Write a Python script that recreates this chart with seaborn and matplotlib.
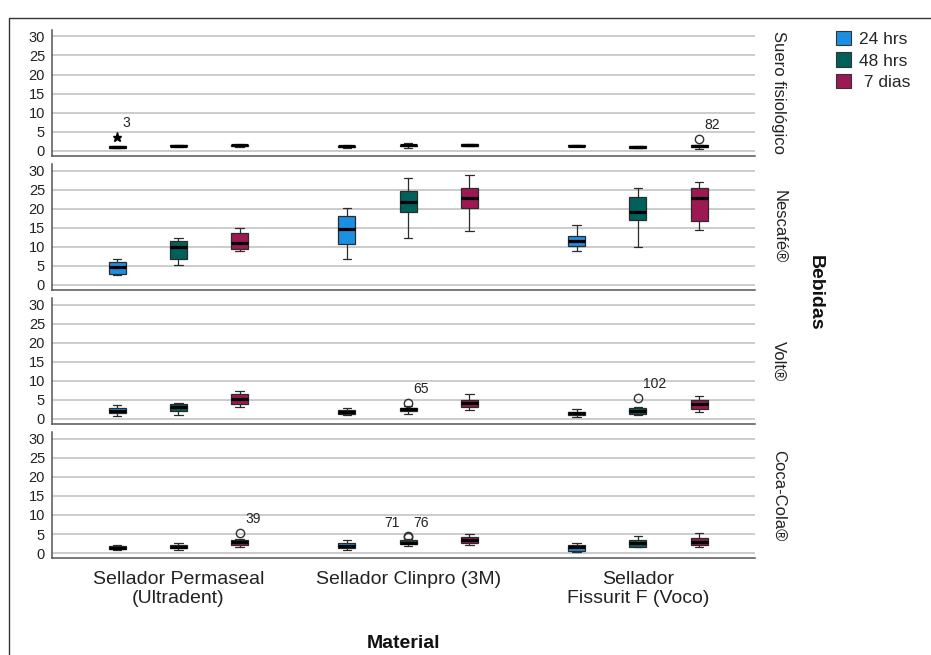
import matplotlib
matplotlib.use("Agg")
import matplotlib.pyplot as plt
from matplotlib.patches import Patch, Rectangle
import seaborn as sns
import pandas as pd

# categorias
bebidas = ["Suero fisiológico", "Nescafé®", "Volt®", "Coca-Cola®"]
materiales = ["Sellador Permaseal\n(Ultradent)", "Sellador Clinpro (3M)", "Sellador\nFissurit F (Voco)"]
tiempos = ["24 hrs", "48 hrs", "7 dias"]
colores = ["#1b8fe2", "#00615a", "#9e1853"]

# [min, q1, mediana, q3, max] por material y tiempo (Permaseal 24/48/7d, Clinpro..., Fissurit...)
suero = [
    [0.6, 0.7, 0.9, 1.1, 1.2], [1.0, 1.1, 1.3, 1.5, 1.6], [1.0, 1.1, 1.4, 1.6, 1.7],
    [0.8, 0.9, 1.1, 1.3, 1.6], [0.7, 1.1, 1.4, 1.6, 1.9], [1.1, 1.2, 1.5, 1.7, 1.8],
    [1.1, 1.2, 1.3, 1.5, 1.6], [0.7, 0.8, 1.0, 1.1, 1.2], [0.5, 1.0, 1.2, 1.4, 1.6],
]
nescafe = [
    [2.6, 2.9, 4.6, 5.9, 6.8], [5.1, 6.8, 9.8, 11.4, 12.4], [8.9, 9.4, 11.1, 13.5, 14.8],
    [6.8, 10.7, 14.7, 18.2, 20.3], [12.4, 19.2, 21.8, 24.6, 28.0], [14.0, 20.3, 22.8, 25.3, 28.8],
    [9.0, 10.1, 11.6, 12.9, 15.8], [10.0, 17.0, 19.2, 23.0, 25.5], [14.5, 16.8, 22.8, 25.5, 26.9],
]
volt = [
    [0.8, 1.5, 2.2, 2.8, 3.7], [1.0, 2.1, 3.1, 3.8, 4.3], [3.0, 3.8, 5.2, 6.5, 7.4],
    [1.0, 1.3, 1.8, 2.3, 2.9], [1.4, 2.1, 2.5, 2.9, 3.3], [2.4, 3.1, 4.1, 5.0, 6.5],
    [0.5, 0.9, 1.5, 1.9, 2.6], [1.0, 1.2, 2.0, 2.9, 3.1], [1.7, 2.5, 3.9, 5.1, 6.0],
]
coca = [
    [0.7, 1.0, 1.4, 1.9, 2.0], [0.9, 1.2, 1.7, 2.2, 2.7], [1.6, 2.1, 2.8, 3.3, 3.6],
    [0.8, 1.2, 1.8, 2.6, 3.5], [1.8, 2.5, 2.7, 3.3, 3.6], [2.1, 2.6, 3.4, 4.2, 5.0],
    [0.2, 0.5, 1.6, 2.2, 2.7], [1.5, 1.6, 2.6, 3.3, 4.4], [1.5, 2.1, 3.0, 3.9, 5.3],
]

# valores atipicos (SPSS: circulo = atipico, estrella = extremo)
out_bebida = ["Suero fisiológico", "Suero fisiológico", "Volt®", "Volt®", "Coca-Cola®", "Coca-Cola®", "Coca-Cola®"]
out_material = [0, 2, 1, 2, 0, 1, 1]
out_tiempo = [0, 2, 1, 1, 2, 1, 1]
out_valor = [3.5, 3.0, 4.1, 5.4, 5.3, 4.6, 4.2]
out_caso = ["3", "82", "65", "102", "39", "71", "76"]
out_extremo = [True, False, False, False, False, False, False]

filas = []
for beb, grupos in zip(bebidas, [suero, nescafe, volt, coca]):
    for i, vals in enumerate(grupos):
        for v in vals:
            filas.append((beb, materiales[i // 3], tiempos[i % 3], v))
df = pd.DataFrame(filas, columns=["Bebidas", "Material", "Tiempo", "Valor"])

sns.set_style("white")
plt.rcParams["font.family"] = ["Liberation Sans", "DejaVu Sans"]

fig, axes = plt.subplots(4, 1, figsize=(9.31, 6.55), dpi=100, sharex=True)
fig.subplots_adjust(left=52/931, right=755/931, top=1-30/655, bottom=1-558/655, hspace=0.068)

ancho = 0.8
for ax, beb in zip(axes, bebidas):
    ax.yaxis.grid(True, color="#c4c4c4", linewidth=1.2)
    ax.set_axisbelow(True)
    sns.boxplot(data=df[df.Bebidas == beb], x="Material", y="Valor", hue="Tiempo",
                order=materiales, hue_order=tiempos, palette=colores, saturation=1,
                width=ancho, gap=0.72, whis=(0, 100), showfliers=False,
                linecolor="#2b2b2b", linewidth=0.9,
                medianprops=dict(color="black", linewidth=2.3),
                legend=False, ax=ax)

    # atipicos
    for m, t, v, caso, ext, b in zip(out_material, out_tiempo, out_valor, out_caso, out_extremo, out_bebida):
        if b != beb:
            continue
        x = m + (t - 1) * ancho / 3
        if ext:
            ax.plot(x, v, marker="*", color="black", markersize=6.5, linestyle="none")
        else:
            ax.plot(x, v, marker="o", markerfacecolor="none", markeredgecolor="#333333",
                    markersize=6, markeredgewidth=1, linestyle="none")
        if caso == "71":
            ax.annotate(caso, (x, v), xytext=(-6, 4), textcoords="offset points",
                        ha="right", va="bottom", fontsize=10, color="#222222")
        else:
            ax.annotate(caso, (x, v), xytext=(4, 5), textcoords="offset points",
                        ha="left", va="bottom", fontsize=10, color="#222222")

    ax.set_ylim(-1.3, 31.7)
    ax.set_xlim(-0.55, 2.51)
    ax.set_yticks(range(0, 31, 5))
    ax.set_xlabel("")
    ax.set_ylabel("")
    sns.despine(ax=ax)
    for s in ["left", "bottom"]:
        ax.spines[s].set_color("#555555")
        ax.spines[s].set_linewidth(1.1)
    ax.tick_params(axis="both", length=0, labelsize=10.5, colors="#222222", pad=5)
    ax.text(1.034, 0.5, beb, transform=ax.transAxes, rotation=270,
            ha="center", va="center", fontsize=12, color="#222222")

axes[-1].tick_params(axis="x", labelsize=14, pad=9)
axes[-1].set_xlabel("Material", fontsize=14, fontweight="bold", labelpad=20, color="#111111")

fig.text(815/931, 1-293/655, "Bebidas", rotation=270, ha="center", va="center",
         fontsize=14, fontweight="bold", color="#111111")

handles = [Patch(facecolor=c, edgecolor="#333333", linewidth=0.8) for c in colores]
fig.legend(handles, ["24 hrs", "48 hrs", " 7 dias"], loc="upper left",
           bbox_to_anchor=(836/931, 1-31/655), frameon=False, fontsize=12.5,
           handlelength=0.85, handleheight=0.9, handletextpad=0.45,
           labelspacing=0.3, borderpad=0, borderaxespad=0)

fig.add_artist(Rectangle((9/931, -0.05), 1.1, 1-18/655+0.05, transform=fig.transFigure,
                         fill=False, edgecolor="#333333", linewidth=1))

fig.savefig("out.png", dpi=100)
